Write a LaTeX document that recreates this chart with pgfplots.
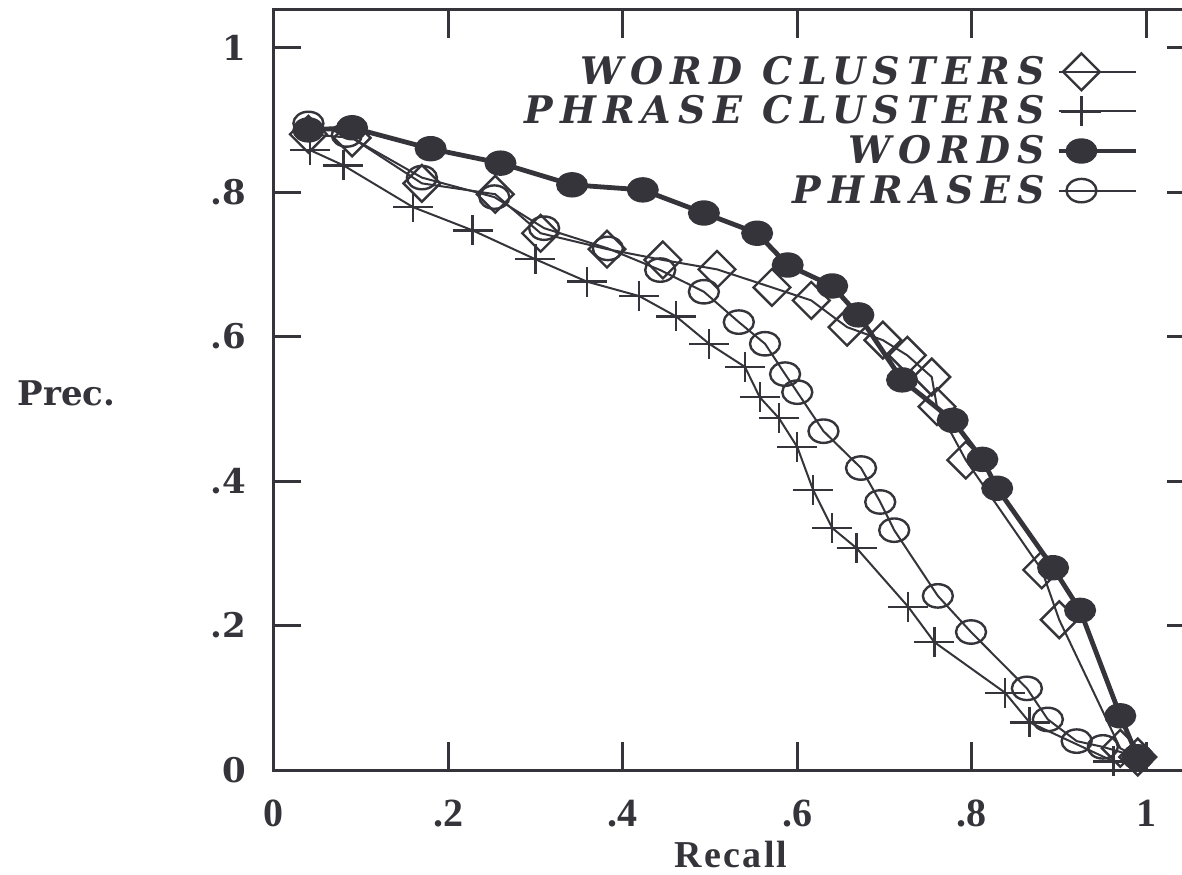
\documentclass[border=0pt]{standalone}
\usepackage{pgfplots}
\pgfplotsset{compat=1.18}
\usepackage{fontspec}
\setmainfont{Liberation Serif}
\newfontfamily\dvserif{DejaVu Serif}
\newfontfamily\legfont[LetterSpace=19]{DejaVu Serif}
\newfontfamily\recfont[LetterSpace=6]{Liberation Serif}
\definecolor{ink}{RGB}{52,52,58}
\begin{document}
\begin{tikzpicture}
\begin{axis}[
  at={(0pt,0pt)}, anchor=south west,
  scale only axis,
  width=460.5pt, height=380pt,
  xmin=0, xmax=1.055, ymin=0, ymax=1.052,
  axis line style={ink, line width=1.5pt},
  tick style={ink, line width=1.5pt},
  major tick length=14pt,
  tick align=inside,
  xtick={0,0.2,0.4,0.6,0.8,1}, xticklabels={0,.2,.4,.6,.8,1},
  ytick={0,0.2,0.4,0.6,0.8,1}, yticklabels={0,.2,.4,.6,.8,1},
  xticklabel style={font=\bfseries\fontsize{20}{20}\selectfont, text=ink, yshift=-11.5pt},
  yticklabel style={font=\dvserif\bfseries\fontsize{17}{17}\selectfont, text=ink, xshift=-10pt},
  xlabel={\recfont\bfseries Recall},
  xlabel style={font=\fontsize{19}{19}\selectfont, text=ink, at={(axis description cs:0.497,0)}, anchor=north, yshift=-32pt},
  ylabel={\dvserif\bfseries Prec.},
  every axis y label/.style={at={(-131.5pt,188.5pt)}, anchor=west, font=\fontsize{17}{17}\selectfont, text=ink},
  legend style={draw=none, fill=none, at={(0.94,0.945)}, anchor=north east,
     font=\legfont\bfseries\itshape\fontsize{19}{19}\selectfont, text=ink, inner sep=0pt,
     row sep=0.2pt, cells={anchor=east},
     /tikz/every odd column/.append style={column sep=4pt}},
  legend plot pos=right,
  legend image code/.code={
    \draw[mark repeat=2,mark phase=2,#1] plot coordinates {(0pt,0pt) (11pt,0pt) (38.5pt,0pt)};
  },
]
\addplot[ink, line width=1pt, mark=square, mark size=6.5pt, mark options={rotate=45, line width=1.2pt, solid}] coordinates {
(0.04,0.88) (0.09,0.875) (0.17,0.812) (0.254,0.797) (0.306,0.743) (0.382,0.721) (0.446,0.706) (0.508,0.693) (0.571,0.668) (0.616,0.65) (0.657,0.613) (0.698,0.595) (0.726,0.574) (0.754,0.544) (0.76,0.503) (0.793,0.429) (0.88,0.277) (0.90,0.208) (0.97,0.03) (0.99,0.018)
};
\addlegendentry{WORD CLUSTERS}
\addplot[ink, line width=1pt, mark=+, mark size=10pt, mark options={yscale=0.75, line width=1.2pt}] coordinates {
(0.042,0.858) (0.08,0.837) (0.16,0.779) (0.228,0.747) (0.30,0.707) (0.359,0.676) (0.419,0.656) (0.461,0.628) (0.499,0.59) (0.54,0.558) (0.557,0.516) (0.579,0.487) (0.60,0.447) (0.618,0.388) (0.64,0.335) (0.668,0.307) (0.727,0.226) (0.757,0.177) (0.838,0.107) (0.866,0.066) (0.962,0.012)
};
\addlegendentry{PHRASE CLUSTERS}
\addplot[ink, line width=2.4pt, mark=*, mark size=7.5pt, mark options={yscale=0.78, line width=1pt, fill=ink}] coordinates {
(0.04,0.886) (0.09,0.889) (0.18,0.86) (0.26,0.84) (0.342,0.81) (0.423,0.803) (0.493,0.771) (0.554,0.743) (0.589,0.699) (0.64,0.67) (0.67,0.63) (0.72,0.54) (0.778,0.484) (0.812,0.43) (0.829,0.39) (0.893,0.28) (0.924,0.221) (0.97,0.075) (0.99,0.018)
};
\addlegendentry{WORDS}
\addplot[ink, line width=1pt, mark=o, mark size=7.5pt, mark options={yscale=0.78, line width=1.2pt}] coordinates {
(0.04,0.895) (0.084,0.879) (0.17,0.82) (0.253,0.793) (0.31,0.75) (0.383,0.722) (0.443,0.692) (0.493,0.662) (0.533,0.62) (0.563,0.59) (0.586,0.548) (0.60,0.523) (0.63,0.469) (0.673,0.418) (0.695,0.371) (0.711,0.332) (0.761,0.241) (0.799,0.191) (0.863,0.113) (0.887,0.07) (0.92,0.04) (0.95,0.032) (0.99,0.018)
};
\addlegendentry{PHRASES}
\end{axis}
\pgfresetboundingbox
\path[use as bounding box] (-136.75pt,-52pt) rectangle (454.25pt,385pt);
\end{tikzpicture}
\end{document}
